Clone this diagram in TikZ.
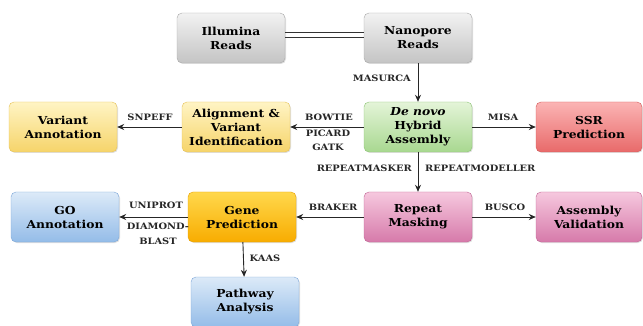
\documentclass[tikz,border=0pt]{standalone}
\usepackage{fontspec}
\setmainfont{DejaVu Serif}[FakeStretch=1.12]
\usetikzlibrary{arrows.meta,shadows}
\definecolor{grT}{HTML}{F2F2F2}\definecolor{grB}{HTML}{C4C4C4}\definecolor{grD}{HTML}{A8A8A8}
\definecolor{gnT}{HTML}{E4F4D8}\definecolor{gnB}{HTML}{A8D890}\definecolor{gnD}{HTML}{8CC474}
\definecolor{rdT}{HTML}{FBB4B4}\definecolor{rdB}{HTML}{E86A6A}\definecolor{rdD}{HTML}{D45858}
\definecolor{ylT}{HTML}{FFF4C4}\definecolor{ylB}{HTML}{F6D46A}\definecolor{ylD}{HTML}{E6C258}
\definecolor{orT}{HTML}{FFD84C}\definecolor{orB}{HTML}{F8AC00}\definecolor{orD}{HTML}{E8A000}
\definecolor{blT}{HTML}{DCEAF8}\definecolor{blB}{HTML}{94BCE8}\definecolor{blD}{HTML}{7CA6D8}
\definecolor{pkT}{HTML}{F6C8DE}\definecolor{pkB}{HTML}{D67AAA}\definecolor{pkD}{HTML}{C06494}
\tikzset{
  box/.style={draw, rounded corners=5pt, minimum width=108pt, minimum height=50pt,
    inner sep=2pt, align=center, font=\fontsize{11}{14}\selectfont\bfseries,
    drop shadow={shadow xshift=1pt, shadow yshift=-1pt, opacity=0.25}},
  gray box/.style={box, top color=grT, bottom color=grB, draw=grD},
  green box/.style={box, top color=gnT, bottom color=gnB, draw=gnD},
  red box/.style={box, top color=rdT, bottom color=rdB, draw=rdD},
  yellow box/.style={box, top color=ylT, bottom color=ylB, draw=ylD},
  orange box/.style={box, top color=orT, bottom color=orB, draw=orD},
  blue box/.style={box, top color=blT, bottom color=blB, draw=blD},
  pink box/.style={box, top color=pkT, bottom color=pkB, draw=pkD},
  arr/.style={draw=black!85, line width=0.9pt, -{Stealth[length=7pt,width=6pt]}},
  lbl/.style={font=\fontsize{8.8}{10}\selectfont\bfseries, text=black!85, inner sep=1pt},
}
\begin{document}
\begin{tikzpicture}[x=1pt,y=-1pt]
\useasboundingbox (0,0) rectangle (643,326);
\node[gray box] (ill) at (231,38) {Illumina\\Reads};
\node[gray box] (nan) at (418,38) {Nanopore\\Reads};
\node[green box] (dn) at (418,127) {\textit{De novo}\\Hybrid\\Assembly};
\node[red box, minimum width=106pt] (ssr) at (589,127) {SSR\\Prediction};
\node[yellow box] (aln) at (236,127) {Alignment \&\\Variant\\Identification};
\node[yellow box] (var) at (63,127) {Variant\\Annotation};
\node[pink box] (rep) at (418,217) {Repeat\\Masking};
\node[pink box, minimum width=106pt] (val) at (589,217) {Assembly\\Validation};
\node[orange box] (gene) at (242,217) {Gene\\Prediction};
\node[blue box] (go) at (65,217) {GO\\Annotation};
\node[blue box] (path) at (245,302) {Pathway\\Analysis};

\draw[draw=black!80, line width=0.7pt] ([yshift=5.5pt]ill.east) -- ([yshift=5.5pt]nan.west);
\draw[draw=black!80, line width=0.7pt] ([yshift=0.5pt]ill.east) -- ([yshift=0.5pt]nan.west);

\draw[arr] (nan) -- (dn);
\draw[arr] (dn) -- (aln);
\draw[arr] (aln) -- (var);
\draw[arr] (dn) -- (ssr);
\draw[arr] (dn) -- (rep);
\draw[arr] (rep) -- (gene);
\draw[arr] (rep) -- (val);
\draw[arr] (gene) -- (go);
\draw[arr] (gene) -- (path);

\node[lbl, anchor=east] (l1) at (412,78) {MASURCA};
\node[lbl] (l2) at (150,117) {SNPEFF};
\node[lbl] (l3) at (329,117) {BOWTIE};
\node[lbl] (l4) at (328,133) {PICARD};
\node[lbl] (l5) at (328,147) {GATK};
\node[lbl] (l6) at (503,117) {MISA};
\node[lbl, anchor=east] (l7) at (413,168) {REPEATMASKER};
\node[lbl, anchor=west] (l8) at (424,168) {REPEATMODELLER};
\node[lbl] (l9) at (333,207) {BRAKER};
\node[lbl] (l10) at (505,207) {BUSCO};
\node[lbl] (l11) at (156,205) {UNIPROT};
\node[lbl] (l12) at (158,226) {DIAMOND-};
\node[lbl] (l13) at (158,241) {BLAST};
\node[lbl] (l14) at (265,258) {KAAS};
\end{tikzpicture}
\end{document}
